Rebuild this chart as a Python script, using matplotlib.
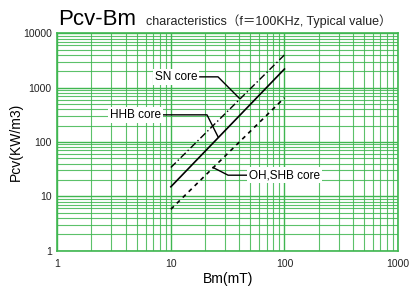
import numpy as np
import matplotlib
matplotlib.use("Agg")
import matplotlib.pyplot as plt
from matplotlib.ticker import LogLocator, FixedLocator, NullFormatter

# Bm (mT) end points and loss values (KW/m3)
bm = [10, 100]
sn_core = [34, 4000]
hhb_core = [15, 2200]
ohshb_core = [5.8, 650]

x_ticks = [1, 10, 100, 1000]
x_labels = ["1", "10", "100", "1000"]
y_ticks = [1, 10, 100, 1000, 10000]
y_labels = ["1", "10", "100", "1000", "10000"]

grid_c = "#3fb650"
fnt = "Liberation Sans"

fig = plt.figure(figsize=(4.11, 2.88), dpi=100)
ax = fig.add_axes([0.1394, 0.1295, 0.8290, 0.7549])
ax.set_xscale("log")
ax.set_yscale("log")
ax.set_xlim(1, 1000)
ax.set_ylim(1, 10000)

ax.xaxis.set_major_locator(FixedLocator(x_ticks))
ax.yaxis.set_major_locator(FixedLocator(y_ticks))
ax.xaxis.set_minor_locator(LogLocator(base=10, subs=np.arange(2, 10)))
ax.yaxis.set_minor_locator(LogLocator(base=10, subs=np.arange(2, 10)))
ax.xaxis.set_minor_formatter(NullFormatter())
ax.yaxis.set_minor_formatter(NullFormatter())
ax.set_xticklabels(x_labels, fontsize=7.5, family=fnt, color="#222222")
ax.set_yticklabels(y_labels, fontsize=7.5, family=fnt, color="#222222")
ax.tick_params(which="both", length=0)
ax.tick_params(axis="x", pad=6)
ax.tick_params(axis="y", pad=4)

ax.grid(which="major", color=grid_c, lw=1.0)
ax.grid(which="minor", color=grid_c, lw=0.8, alpha=0.85)
for s in ax.spines.values():
    s.set_color(grid_c)
    s.set_linewidth(1.2)

ax.plot(bm, sn_core, color="black", lw=1.0, ls=(0, (5, 2, 1, 2)))
ax.plot(bm, hhb_core, color="black", lw=1.2, ls="-")
ax.plot(bm, ohshb_core, color="black", lw=1.2, ls=(0, (2.5, 2.5)))

box = dict(boxstyle="square,pad=0.15", fc="white", ec="none")

# SN core leader
ax.text(17.0, 1580, "SN core", fontsize=8.5, family=fnt, ha="right", va="center", bbox=box)
ax.plot([18.0, 26.0, 40.0], [1580, 1580, 640], color="black", lw=1.0)

# HHB core leader
ax.text(8.2, 316, "HHB core", fontsize=8.5, family=fnt, ha="right", va="center", bbox=box)
ax.plot([8.5, 20.8, 26.0], [316, 316, 125], color="black", lw=1.0)

# OH,SHB core leader
ax.text(48.5, 24.5, "OH,SHB core", fontsize=8.5, family=fnt, ha="left", va="center", bbox=box)
ax.plot([23.5, 31.9, 47.5], [34, 24.5, 24.5], color="black", lw=1.0)

ax.set_xlabel("Bm(mT)", fontsize=10, family=fnt, labelpad=2)
ax.set_ylabel("Pcv(KW/m3)", fontsize=10, family=fnt, labelpad=0)

fig.text(0.141, 0.913, "Pcv-Bm", fontsize=16, family=fnt, va="baseline")
fig.text(0.355, 0.913, "characteristics（f＝100KHz, Typical value）", fontsize=9,
         family=[fnt, "Noto Sans CJK JP"], va="baseline", color="#222222")

fig.savefig("out.png", dpi=100)
